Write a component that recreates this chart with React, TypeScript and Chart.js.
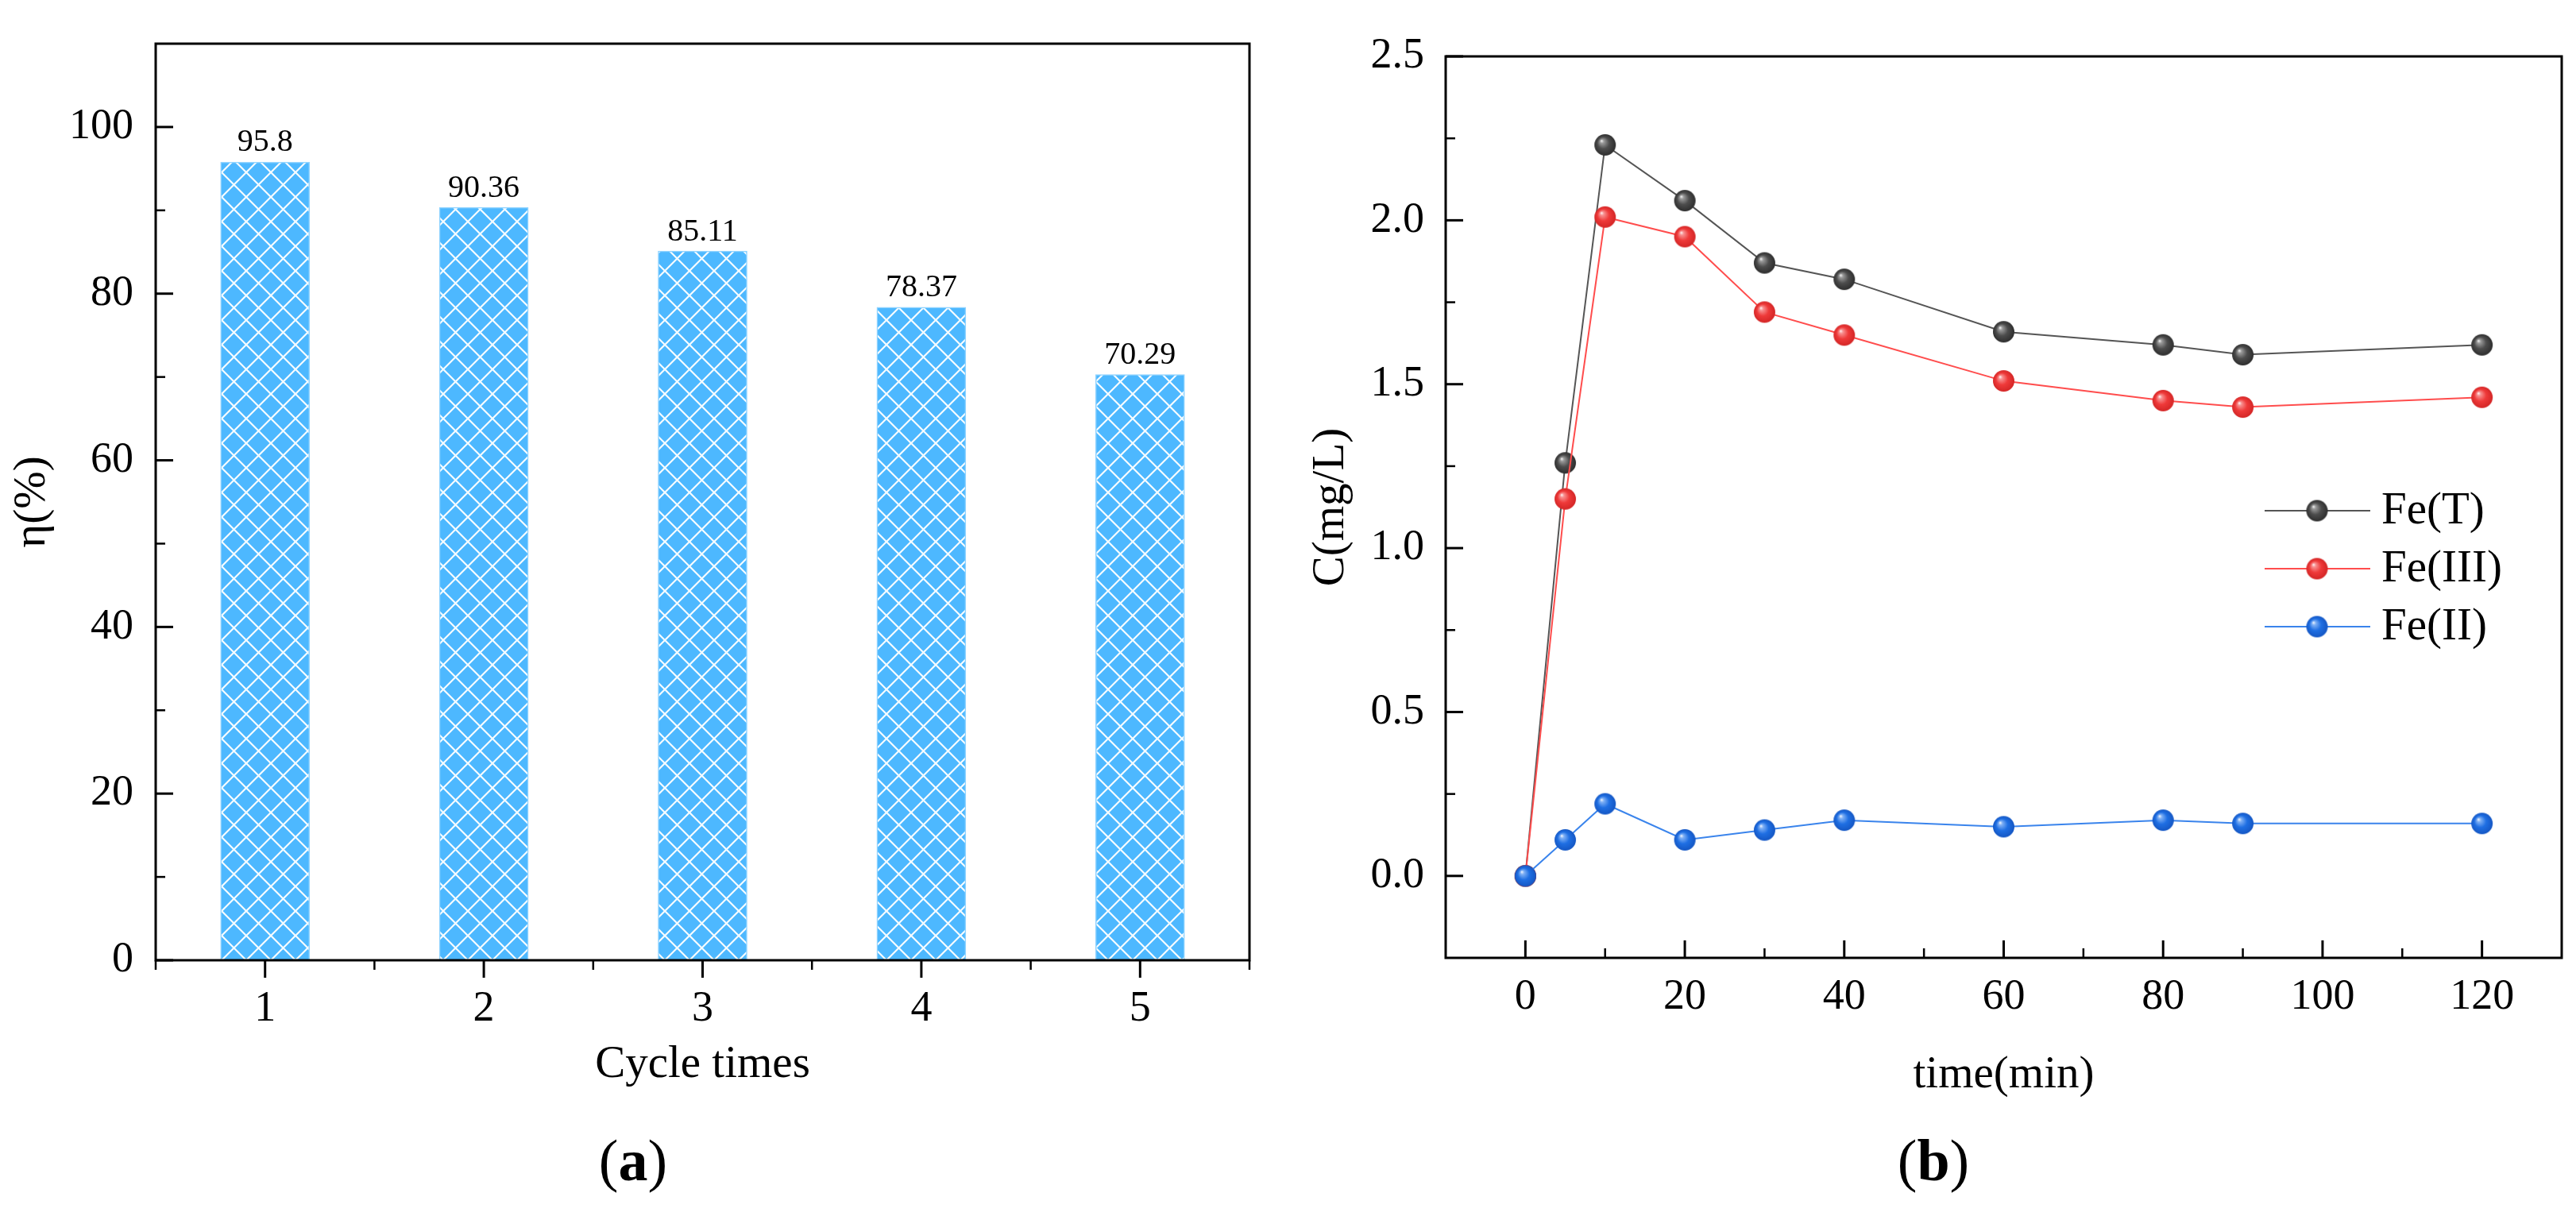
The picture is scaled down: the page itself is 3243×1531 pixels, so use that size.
import { useEffect, useRef } from 'react';
import { Chart, registerables } from 'chart.js';

Chart.register(...registerables);

const SERIF = '"Liberation Serif", "Times New Roman", serif';

// (a) removal efficiency over reuse cycles
const cycles = ['1', '2', '3', '4', '5'];
const removal = [95.8, 90.36, 85.11, 78.37, 70.29];
const etaTicks = [0, 20, 40, 60, 80, 100];
const etaMinor = [10, 30, 50, 70, 90];
const cycleMajor = [0, 1, 2, 3, 4];
const cycleMinor = [-0.5, 0.5, 1.5, 2.5, 3.5, 4.5];

// (b) dissolved iron vs time
const timeMin = [0, 5, 10, 20, 30, 40, 60, 80, 90, 120];
const feTotal = [0, 1.26, 2.23, 2.06, 1.87, 1.82, 1.66, 1.62, 1.59, 1.62];
const feIII = [0, 1.15, 2.01, 1.95, 1.72, 1.65, 1.51, 1.45, 1.43, 1.46];
const feII = [0, 0.11, 0.22, 0.11, 0.14, 0.17, 0.15, 0.17, 0.16, 0.16];
const timeTicks = [0, 20, 40, 60, 80, 100, 120];
const timeMinor = [10, 30, 50, 70, 90, 110];
const concTicks = [0, 0.5, 1, 1.5, 2, 2.5];
const concMinor = [0.25, 0.75, 1.25, 1.75, 2.25];

// frame box + inward/outward tick marks drawn from the scales
const axesFrame = {
  id: 'axesFrame',
  afterDatasetsDraw(chart: any, _args: any, o: any) {
    const { ctx, chartArea: a, scales } = chart;
    const sx = scales.x;
    const sy = scales.y;
    const seg = (x1: number, y1: number, x2: number, y2: number, w: number) => {
      ctx.lineWidth = w;
      ctx.beginPath();
      ctx.moveTo(x1, y1);
      ctx.lineTo(x2, y2);
      ctx.stroke();
    };
    ctx.save();
    ctx.strokeStyle = '#000';
    const dir = o.xOutward ? 1 : -1;
    o.xMajor.forEach((v: number) => {
      const p = sx.getPixelForValue(v);
      seg(p, a.bottom, p, a.bottom + dir * 22, 3);
    });
    o.xMinor.forEach((v: number) => {
      const p = sx.getPixelForValue(v);
      seg(p, a.bottom, p, a.bottom + dir * 12, 2.5);
    });
    o.yMajor.forEach((v: number) => {
      const p = sy.getPixelForValue(v);
      seg(a.left, p, a.left + 22, p, 3);
    });
    o.yMinor.forEach((v: number) => {
      const p = sy.getPixelForValue(v);
      seg(a.left, p, a.left + 12, p, 2.5);
    });
    ctx.lineWidth = 3;
    ctx.strokeRect(a.left, a.top, a.right - a.left, a.bottom - a.top);
    ctx.restore();
  },
};

const barValues = {
  id: 'barValues',
  afterDatasetsDraw(chart: any) {
    const { ctx } = chart;
    const meta = chart.getDatasetMeta(0);
    const vals = chart.data.datasets[0].data;
    ctx.save();
    ctx.fillStyle = '#000';
    ctx.font = `40px ${SERIF}`;
    ctx.textAlign = 'center';
    ctx.textBaseline = 'middle';
    meta.data.forEach((bar: any, i: number) => {
      ctx.fillText(String(vals[i]), bar.x, bar.y - 24);
    });
    ctx.restore();
  },
};

const lineLegend = {
  id: 'lineLegend',
  afterDraw(chart: any) {
    const { ctx, chartArea: a } = chart;
    ctx.save();
    ctx.font = `57px ${SERIF}`;
    ctx.textBaseline = 'middle';
    ctx.textAlign = 'left';
    chart.data.datasets.forEach((ds: any, i: number) => {
      const y = a.top + 572 + i * 73;
      ctx.strokeStyle = ds.borderColor;
      ctx.lineWidth = 2;
      ctx.beginPath();
      ctx.moveTo(a.right - 374, y);
      ctx.lineTo(a.right - 241, y);
      ctx.stroke();
      const img = ds.pointStyle as HTMLCanvasElement;
      ctx.drawImage(img, a.right - 308 - img.width / 2, y - img.height / 2);
      ctx.fillStyle = '#000';
      ctx.fillText(ds.label, a.right - 227, y + 1);
    });
    ctx.restore();
  },
};

function makeHatch(base: string, size: number) {
  const c = document.createElement('canvas');
  c.width = size;
  c.height = size;
  const g = c.getContext('2d')!;
  g.fillStyle = base;
  g.fillRect(0, 0, size, size);
  g.strokeStyle = 'rgba(255,255,255,0.95)';
  g.lineWidth = 2.2;
  g.beginPath();
  for (const dx of [-size, 0, size]) {
    g.moveTo(dx, 0);
    g.lineTo(dx + size, size);
    g.moveTo(dx + size, 0);
    g.lineTo(dx, size);
  }
  g.stroke();
  return g.createPattern(c, 'repeat')!;
}

function makeBall(mid: string, dark: string, light: string, r: number) {
  const size = Math.ceil(r * 2 + 2);
  const c = document.createElement('canvas');
  c.width = size;
  c.height = size;
  const g = c.getContext('2d')!;
  const cx = size / 2;
  const cy = size / 2;
  const grad = g.createRadialGradient(cx - r * 0.35, cy - r * 0.4, 0, cx, cy, r);
  grad.addColorStop(0, '#ffffff');
  grad.addColorStop(0.18, light);
  grad.addColorStop(0.55, mid);
  grad.addColorStop(1, dark);
  g.fillStyle = grad;
  g.beginPath();
  g.arc(cx, cy, r, 0, Math.PI * 2);
  g.fill();
  return c;
}

function BarPanel() {
  const canvasRef = useRef<HTMLCanvasElement>(null);
  const chartRef = useRef<Chart | null>(null);

  useEffect(() => {
    if (!canvasRef.current) return;
    if (chartRef.current) chartRef.current.destroy();
    const hatch = makeHatch('#4db8ff', 31);

    chartRef.current = new Chart(canvasRef.current, {
      type: 'bar',
      data: {
        labels: cycles,
        datasets: [{
          data: removal,
          backgroundColor: hatch,
          borderColor: '#8fd3ff',
          borderWidth: 1.5,
          barThickness: 112,
        }],
      },
      plugins: [axesFrame, barValues],
      options: {
        responsive: false,
        animation: false,
        layout: { padding: { left: 0, right: 47, top: 45, bottom: 0 } },
        plugins: {
          legend: { display: false },
          tooltip: { enabled: false },
          axesFrame: {
            xOutward: true,
            xMajor: cycleMajor,
            xMinor: cycleMinor,
            yMajor: etaTicks,
            yMinor: etaMinor,
          },
        } as any,
        scales: {
          x: {
            type: 'category',
            offset: true,
            grid: { display: false, drawTicks: false },
            border: { display: false },
            ticks: { color: '#000', padding: 35, font: { family: SERIF, size: 54, lineHeight: 1 } },
            title: {
              display: true,
              text: 'Cycle times',
              color: '#000',
              font: { family: SERIF, size: 57, lineHeight: 1 },
              padding: { top: 0, bottom: 30.5 },
            },
            afterFit: (s: any) => { s.height = 191; },
          },
          y: {
            min: 0,
            max: 110,
            grid: { display: false, drawTicks: false },
            border: { display: false },
            afterBuildTicks: (s: any) => { s.ticks = etaTicks.map((v) => ({ value: v })); },
            ticks: { color: '#000', padding: 28, font: { family: SERIF, size: 54, lineHeight: 1 } },
            title: {
              display: true,
              text: 'η(%)',
              color: '#000',
              font: { family: SERIF, size: 57, lineHeight: 1 },
              padding: { top: 12.5, bottom: 0 },
            },
            afterFit: (s: any) => { s.width = 196; },
          },
        },
      },
    });

    return () => {
      if (chartRef.current) {
        chartRef.current.destroy();
        chartRef.current = null;
      }
    };
  }, []);

  return (
    <canvas
      ref={canvasRef}
      width={1620}
      height={1400}
      style={{ position: 'absolute', left: 0, top: 0, width: 1620, height: 1400 }}
    />
  );
}

function LinePanel() {
  const canvasRef = useRef<HTMLCanvasElement>(null);
  const chartRef = useRef<Chart | null>(null);

  useEffect(() => {
    if (!canvasRef.current) return;
    if (chartRef.current) chartRef.current.destroy();

    const grayBall = makeBall('#4d4d4d', '#2e2e2e', '#9a9a9a', 13.5);
    const redBall = makeBall('#ef3a3a', '#d42626', '#f89090', 13.5);
    const blueBall = makeBall('#1f6fe3', '#1557c4', '#7fb0f5', 13.5);
    const pts = (ys: number[]) => timeMin.map((t, i) => ({ x: t, y: ys[i] }));

    chartRef.current = new Chart(canvasRef.current, {
      type: 'line',
      data: {
        datasets: [
          { label: 'Fe(T)', data: pts(feTotal), borderColor: '#555555', borderWidth: 2, pointStyle: grayBall, pointRadius: 14, order: 2 },
          { label: 'Fe(III)', data: pts(feIII), borderColor: '#ff4d4d', borderWidth: 2, pointStyle: redBall, pointRadius: 14, order: 1 },
          { label: 'Fe(II)', data: pts(feII), borderColor: '#3a84ec', borderWidth: 2, pointStyle: blueBall, pointRadius: 14, order: 0 },
        ],
      },
      plugins: [axesFrame, lineLegend],
      options: {
        responsive: false,
        animation: false,
        layout: { padding: { left: 0, right: 18, top: 71, bottom: 0 } },
        plugins: {
          legend: { display: false },
          tooltip: { enabled: false },
          axesFrame: {
            xOutward: false,
            xMajor: timeTicks,
            xMinor: timeMinor,
            yMajor: concTicks,
            yMinor: concMinor,
          },
        } as any,
        scales: {
          x: {
            type: 'linear',
            min: -10,
            max: 130,
            grid: { display: false, drawTicks: false },
            border: { display: false },
            afterBuildTicks: (s: any) => { s.ticks = timeTicks.map((v) => ({ value: v })); },
            ticks: { color: '#000', padding: 23, font: { family: SERIF, size: 54, lineHeight: 1 } },
            title: {
              display: true,
              text: 'time(min)',
              color: '#000',
              font: { family: SERIF, size: 57, lineHeight: 1 },
              padding: { top: 0, bottom: 17.5 },
            },
            afterFit: (s: any) => { s.height = 194; },
          },
          y: {
            min: -0.25,
            max: 2.5,
            grid: { display: false, drawTicks: false },
            border: { display: false },
            afterBuildTicks: (s: any) => { s.ticks = concTicks.map((v) => ({ value: v })); },
            ticks: {
              color: '#000',
              padding: 27,
              font: { family: SERIF, size: 54, lineHeight: 1 },
              callback: (v: any) => Number(v).toFixed(1),
            },
            title: {
              display: true,
              text: 'C(mg/L)',
              color: '#000',
              font: { family: SERIF, size: 57, lineHeight: 1 },
              padding: { top: 27.5, bottom: 0 },
            },
            afterFit: (s: any) => { s.width = 200; },
          },
        },
      },
    });

    return () => {
      if (chartRef.current) {
        chartRef.current.destroy();
        chartRef.current = null;
      }
    };
  }, []);

  return (
    <canvas
      ref={canvasRef}
      width={1623}
      height={1400}
      style={{ position: 'absolute', left: 1620, top: 0, width: 1623, height: 1400 }}
    />
  );
}

const panelLabel: React.CSSProperties = {
  position: 'absolute',
  top: 1424,
  width: 400,
  textAlign: 'center',
  fontFamily: SERIF,
  fontSize: 74,
  lineHeight: '74px',
  color: '#000',
};

export default function App() {
  return (
    <div style={{ position: 'absolute', left: 0, top: 0, width: 3243, height: 1531, background: '#fff', overflow: 'hidden' }}>
      <BarPanel />
      <LinePanel />
      <div style={{ ...panelLabel, left: 597 }}>(<b>a</b>)</div>
      <div style={{ ...panelLabel, left: 2234 }}>(<b>b</b>)</div>
    </div>
  );
}
